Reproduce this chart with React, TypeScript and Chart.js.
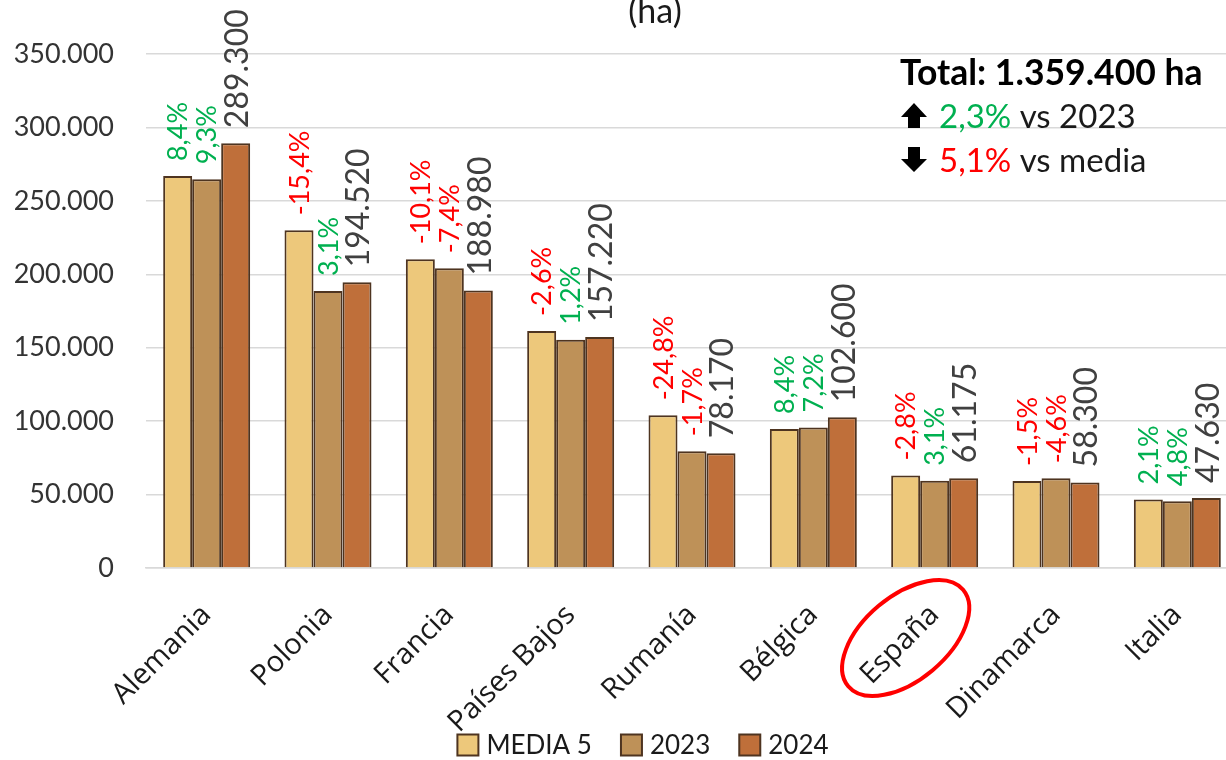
import React, { useEffect, useRef } from 'react';
import { Chart, registerables } from 'chart.js';

Chart.register(...registerables);

// ---------- data ----------
const categories = ['Alemania', 'Polonia', 'Francia', 'Países Bajos', 'Rumanía', 'Bélgica', 'España', 'Dinamarca', 'Italia'];
const seriesLabels = ['MEDIA 5', '2023', '2024'];
const media5 = [266900, 229930, 210210, 161420, 103950, 94650, 62940, 59190, 46650];
const values2023 = [264700, 188670, 204080, 155360, 79520, 95710, 59340, 61110, 45450];
const values2024 = [289300, 194520, 188980, 157220, 78170, 102600, 61175, 58300, 47630];
const pctVsMedia = ['8,4%', '-15,4%', '-10,1%', '-2,6%', '-24,8%', '8,4%', '-2,8%', '-1,5%', '2,1%'];
const pctVs2023 = ['9,3%', '3,1%', '-7,4%', '1,2%', '-1,7%', '7,2%', '3,1%', '-4,6%', '4,8%'];
const yMin = 0;
const yMax = 350000;
const yStep = 50000;
const titleText = '(ha)';
const highlightedCategory = 'España';
const totalText = 'Total: 1.359.400 ha';
const totalVs2023 = '2,3%';
const totalVsMedia = '5,1%';
const totalVs2023Up = true;
const totalVsMediaUp = false;

// ---------- styles ----------
const COLORS = ['#EDC87B', '#BE9158', '#BF6F3A'];
const BORDER = '#4E3420';
const GREEN = '#00B050';
const RED = '#FF0000';
const GRID = '#D9D9D9';
const SANS = 'Lato';
const CAT_FONT = 'Open Sans';

const fmt = (n: number) => Math.round(n).toString().replace(/\B(?=(\d{3})+(?!\d))/g, '.');
const pctColor = (s: string) => (s.trim().startsWith('-') ? RED : GREEN);

const annotationsPlugin = {
  id: 'annotations',
  afterDatasetsDraw(chart: any) {
    const ctx = chart.ctx as CanvasRenderingContext2D;
    const area = chart.chartArea;
    const metas = [0, 1, 2].map((i) => chart.getDatasetMeta(i));

    // rotated labels above bars
    const drawRot = (text: string, x: number, y: number, color: string, size: number) => {
      ctx.save();
      ctx.translate(x, y);
      ctx.rotate(-Math.PI / 2);
      ctx.font = `${size}px ${SANS}`;
      ctx.fillStyle = color;
      ctx.textAlign = 'left';
      ctx.textBaseline = 'middle';
      ctx.fillText(text, 0, 0);
      ctx.restore();
    };
    categories.forEach((_, i) => {
      const b0 = metas[0].data[i];
      const b1 = metas[1].data[i];
      const b2 = metas[2].data[i];
      drawRot(pctVsMedia[i], b0.x + 1, b0.y - 15, pctColor(pctVsMedia[i]), 27);
      drawRot(pctVs2023[i], b1.x + 1, b1.y - 15, pctColor(pctVs2023[i]), 27);
      drawRot(fmt(values2024[i]), b2.x + 2, b2.y - 15, '#404040', 32);
    });

    // title (second line, cut by the top edge)
    ctx.save();
    ctx.font = `34px ${SANS}`;
    ctx.fillStyle = '#1a1a1a';
    ctx.textAlign = 'center';
    ctx.textBaseline = 'alphabetic';
    ctx.fillText(titleText, 655, 23);
    ctx.restore();

    // total box
    const tx = 900;
    ctx.save();
    ctx.fillStyle = '#000';
    ctx.textBaseline = 'alphabetic';
    ctx.textAlign = 'left';
    ctx.font = `bold 35.5px ${SANS}`;
    ctx.fillText(totalText, tx, 85);
    const arrow = (x: number, base: number, up: boolean) => {
      ctx.beginPath();
      if (up) {
        ctx.moveTo(x + 13, base - 25);
        ctx.lineTo(x + 26, base - 11);
        ctx.lineTo(x + 19, base - 11);
        ctx.lineTo(x + 19, base);
        ctx.lineTo(x + 7, base);
        ctx.lineTo(x + 7, base - 11);
        ctx.lineTo(x, base - 11);
      } else {
        ctx.moveTo(x + 7, base - 25);
        ctx.lineTo(x + 19, base - 25);
        ctx.lineTo(x + 19, base - 13);
        ctx.lineTo(x + 26, base - 13);
        ctx.lineTo(x + 13, base);
        ctx.lineTo(x, base - 13);
        ctx.lineTo(x + 7, base - 13);
      }
      ctx.closePath();
      ctx.fillStyle = '#000';
      ctx.fill();
    };
    const line = (pct: string, up: boolean, rest: string, base: number) => {
      arrow(tx + 1, base, up);
      ctx.font = `33px ${SANS}`;
      ctx.fillStyle = up ? GREEN : RED;
      ctx.fillText(pct, tx + 39, base);
      const w = ctx.measureText(pct + ' ').width;
      ctx.fillStyle = '#1a1a1a';
      ctx.fillText(rest, tx + 39 + w, base);
    };
    line(totalVs2023, totalVs2023Up, 'vs 2023', 128);
    line(totalVsMedia, totalVsMediaUp, 'vs media', 172);
    ctx.restore();

    // highlight ellipse around the category label
    const hi = categories.indexOf(highlightedCategory);
    if (hi >= 0) {
      const xs = chart.scales.x;
      const cx = xs.getPixelForValue(hi) - 29;
      const cy = area.bottom + 70;
      ctx.save();
      ctx.beginPath();
      ctx.ellipse(cx, cy, 75, 42, (-40 * Math.PI) / 180, 0, Math.PI * 2);
      ctx.strokeStyle = RED;
      ctx.lineWidth = 4;
      ctx.stroke();
      ctx.restore();
    }

    // legend
    ctx.save();
    ctx.font = `26px ${SANS}`;
    const box = 21;
    const gapBoxText = 8;
    const gapItems = 29;
    const widths = seriesLabels.map((l) => box + gapBoxText + ctx.measureText(l).width);
    const total = widths.reduce((a, b) => a + b, 0) + gapItems * (widths.length - 1);
    let lx = 643 - total / 2;
    const ly = 745;
    seriesLabels.forEach((l, i) => {
      ctx.fillStyle = COLORS[i];
      ctx.fillRect(lx, ly - box / 2, box, box);
      ctx.strokeStyle = BORDER;
      ctx.lineWidth = 2;
      ctx.strokeRect(lx, ly - box / 2, box, box);
      ctx.fillStyle = '#1a1a1a';
      ctx.textAlign = 'left';
      ctx.textBaseline = 'middle';
      ctx.fillText(l, lx + box + gapBoxText, ly + 1);
      lx += widths[i] + gapItems;
    });
    ctx.restore();
  },
};

export default function App() {
  const canvasRef = useRef<HTMLCanvasElement | null>(null);

  useEffect(() => {
    document.body.style.margin = '0';
    const canvas = canvasRef.current;
    if (!canvas) return;
    const chart = new Chart(canvas, {
      type: 'bar',
      data: {
        labels: categories,
        datasets: [media5, values2023, values2024].map((d, i) => ({
          label: seriesLabels[i],
          data: d,
          backgroundColor: COLORS[i],
          borderColor: BORDER,
          borderWidth: 2,
          borderSkipped: 'bottom',
          categoryPercentage: 0.717,
          barPercentage: 1.0,
        })),
      },
      options: {
        responsive: false,
        animation: false,
        devicePixelRatio: 1,
        layout: { padding: { left: 0, right: 0, top: 54, bottom: 0 } },
        plugins: {
          legend: { display: false },
          title: { display: false },
          tooltip: { enabled: false },
        },
        scales: {
          x: {
            grid: { display: false },
            border: { display: true, color: GRID, width: 1.5 },
            ticks: {
              maxRotation: 45,
              minRotation: 45,
              padding: 22,
              color: '#1a1a1a',
              font: { family: CAT_FONT, size: 29 },
            },
            afterFit: (axis: any) => {
              axis.height = 192;
            },
          },
          y: {
            min: yMin,
            max: yMax,
            border: { display: false },
            grid: { color: GRID, lineWidth: 1.5, drawTicks: false },
            ticks: {
              stepSize: yStep,
              padding: 32,
              color: '#333333',
              font: { family: SANS, size: 27 },
              callback: (v: any) => fmt(Number(v)),
            },
            afterFit: (axis: any) => {
              axis.width = 146;
            },
          },
        },
      },
      plugins: [annotationsPlugin],
    });
    return () => chart.destroy();
  }, []);

  return (
    <div style={{ position: 'relative', width: 1226, height: 760, overflow: 'hidden', background: '#fff' }}>
      <canvas ref={canvasRef} width={1238} height={760} style={{ position: 'absolute', left: 0, top: 0, width: 1238, height: 760 }} />
    </div>
  );
}
